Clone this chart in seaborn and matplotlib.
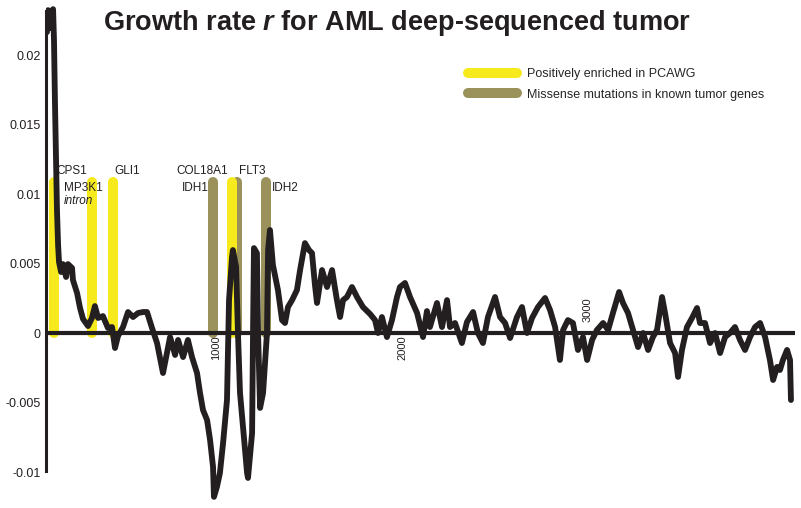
import matplotlib
matplotlib.use("Agg")
import matplotlib.pyplot as plt
import seaborn as sns
import pandas as pd

# growth rate r along the sequenced positions
positions = [91, 97, 108, 124, 129, 134, 140, 145, 151, 156, 167, 177, 194, 204, 226, 231,
             253, 269, 285, 312, 333, 349, 366, 392, 419, 441, 457, 473, 500, 527, 554, 581,
             608, 629, 656, 683, 715, 737, 753, 780, 796, 823, 849, 871, 898, 914, 930, 952,
             968, 984, 989, 1005, 1021, 1038, 1059, 1070, 1086, 1091, 1108, 1118, 1129, 1145,
             1167, 1172, 1194, 1199, 1204, 1220, 1226, 1237, 1253, 1274, 1280, 1290, 1306,
             1333, 1355, 1371, 1387, 1409, 1435, 1452, 1478, 1500, 1516, 1532, 1543, 1570,
             1597, 1624, 1650, 1667, 1683, 1704, 1731, 1758, 1790, 1828, 1855, 1871, 1892,
             1919, 1946, 1973, 1989, 2016, 2043, 2081, 2113, 2134, 2150, 2188, 2215, 2242,
             2258, 2285, 2322, 2349, 2382, 2408, 2435, 2462, 2500, 2527, 2554, 2581, 2618,
             2645, 2672, 2699, 2731, 2769, 2796, 2823, 2849, 2866, 2892, 2919, 2946, 2973,
             2995, 3022, 3048, 3081, 3108, 3134, 3167, 3188, 3215, 3242, 3269, 3296, 3323,
             3349, 3371, 3398, 3414, 3441, 3468, 3484, 3505, 3532, 3559, 3586, 3602, 3629,
             3656, 3683, 3710, 3737, 3763, 3790, 3817, 3844, 3871, 3898, 3925, 3952, 3978,
             3995, 4016, 4032, 4048, 4070, 4086, 4091]
growth_r = [0.02165, 0.02323, 0.02194, 0.0233, 0.02107, 0.01676, 0.01244, 0.00885, 0.00633,
            0.00511, 0.00439, 0.00496, 0.00403, 0.00496, 0.00468, 0.00381, 0.00288, 0.0018,
            0.00101, 0.0005, 0.00108, 0.00194, 0.00108, 0.00122, 0.00036, 0.00043, -0.00108,
            -0.00022, 0.00043, 0.00151, 0.00115, 0.00144, 0.00151, 0.00151, 0.00036, -0.00072,
            -0.00288, -0.00137, -0.00029, -0.00158, -0.0005, -0.00173, -0.0005, -0.00173,
            -0.00288, -0.00431, -0.00554, -0.00626, -0.00769, -0.00963, -0.01179, -0.01107,
            -0.01007, -0.00791, -0.00482, 0.00237, 0.00546, 0.00597, 0.00475, 0.0, -0.00431,
            -0.00676, -0.01007, -0.01043, -0.00719, 0.0, 0.00611, 0.00575, 0.0, -0.00539,
            -0.00431, 0.0, 0.00597, 0.00741, 0.00489, 0.00309, 0.00093, 0.00072, 0.00187,
            0.00237, 0.00309, 0.00453, 0.00647, 0.00597, 0.00575, 0.00345, 0.00216, 0.00453,
            0.00331, 0.00453, 0.00237, 0.00115, 0.00237, 0.00259, 0.00331, 0.00259, 0.00187,
            0.00137, 0.00093, 0.0, 0.00115, -0.00029, 0.00093, 0.00259, 0.00331, 0.0036,
            0.00259, 0.00144, -0.00029, 0.00158, 0.00043, 0.00216, 0.00043, 0.00237, 0.00043,
            0.00072, -0.00072, 0.00079, 0.00151, 0.0, -0.00072, 0.00115, 0.00259, 0.00115,
            0.00072, -0.00036, 0.00115, 0.00187, 0.0, 0.00108, 0.00187, 0.00252, 0.00165,
            0.00043, -0.00194, 0.00022, 0.00093, 0.00072, -0.00122, -0.00029, -0.00194,
            -0.0005, 0.00022, 0.00072, 0.00022, 0.00144, 0.00295, 0.00216, 0.00144, 0.00022,
            -0.00101, 0.0, -0.00122, -0.00029, 0.00022, 0.00259, 0.00144, -0.00072, -0.00144,
            -0.00316, -0.00122, 0.00043, 0.00108, 0.0018, 0.00072, 0.00072, -0.00072, 0.0,
            -0.00144, -0.00029, 0.0, 0.00043, -0.0005, -0.00122, -0.00029, 0.00043, 0.00072,
            -0.00029, -0.00194, -0.00338, -0.00244, -0.00266, -0.00194, -0.00122, -0.00194,
            -0.00482]

# marked genes
pcawg_pos = [129, 333, 446, 1086]          # positively enriched in PCAWG
missense_pos = [984, 1113, 1269]           # missense mutations in known tumor genes
bar_top = 0.0109

gene_names = ["CPS1", "MP3K1", "intron", "GLI1", "COL18A1", "FLT3", "IDH1", "IDH2"]
gene_x = [140, 183, 183, 452, 785, 1124, 817, 1301]
gene_y = [0.01165, 0.01043, 0.0095, 0.01165, 0.01165, 0.01165, 0.01043, 0.01043]
gene_italic = [False, False, True, False, False, False, False, False]

yticks = [-0.01, -0.005, 0, 0.005, 0.01, 0.015, 0.02]
xtick_vals = [1000, 2000, 3000]

BLACK = "#231f20"
YELLOW = "#f6ea1c"
OLIVE = "#9a925a"

sns.set_style("white")
plt.rcParams["font.family"] = ["Liberation Sans", "DejaVu Sans"]
plt.rcParams["mathtext.fontset"] = "custom"
plt.rcParams["mathtext.it"] = "Liberation Sans:italic:bold"

fig = plt.figure(figsize=(8.01, 5.08), dpi=100)
ax = fig.add_axes([46 / 801, 0, 755 / 801, 1])
ax.set_xlim(86, 4145)
ax.set_ylim(-0.01259, 0.02396)

# gene bars
miss_lines = []
for x in missense_pos:
    miss_lines += ax.plot([x, x], [0, bar_top], color=OLIVE, lw=7.2,
                          solid_capstyle="round", zorder=1)
pc_lines = []
for x in pcawg_pos:
    pc_lines += ax.plot([x, x], [0, bar_top], color=YELLOW, lw=7.2,
                        solid_capstyle="round", zorder=2)

# zero line
ax.plot([86, 4113], [0, 0], color=BLACK, lw=3, solid_capstyle="butt", zorder=3)

df = pd.DataFrame({"pos": positions, "r": growth_r})
sns.lineplot(data=df, x="pos", y="r", ax=ax, color=BLACK, lw=4.2, sort=False,
             solid_joinstyle="round", solid_capstyle="round", zorder=4)

for name, gx, gy, it in zip(gene_names, gene_x, gene_y, gene_italic):
    ax.text(gx, gy, name, fontsize=8.5, ha="left", va="center", color=BLACK,
            style="italic" if it else "normal", zorder=5)

# x tick labels sit along the zero line
for v in xtick_vals:
    if v == 3000:
        ax.text(v, 0.0008, str(v), rotation=90, ha="center", va="bottom",
                fontsize=8, color=BLACK)
    else:
        ax.text(v, -0.0002, str(v), rotation=90, ha="center", va="top",
                fontsize=8, color=BLACK)

ax.set_xticks([])
ax.set_yticks(yticks)
ax.set_yticklabels([f"{t:g}" for t in yticks])
ax.tick_params(axis="y", length=0, pad=4, labelsize=9, colors=BLACK)
ax.set_xlabel("")
ax.set_ylabel("")
for s in ["top", "right", "bottom"]:
    ax.spines[s].set_visible(False)
ax.spines["left"].set_color(BLACK)
ax.spines["left"].set_linewidth(2.2)
ax.spines["left"].set_bounds(-0.0099, 0.0232)

ax.legend(handles=[pc_lines[0], miss_lines[0]],
          labels=["Positively enriched in PCAWG", "Missense mutations in known tumor genes"],
          loc="upper left", bbox_to_anchor=(468 / 801, 1 - 68 / 508),
          bbox_transform=fig.transFigure, frameon=False, fontsize=9,
          handlelength=3.9, handletextpad=0.8, labelspacing=0.7,
          borderpad=0, borderaxespad=0)

fig.text(397 / 801, 1 - 30 / 508, r"Growth rate $\mathit{r}$ for AML deep-sequenced tumor",
         ha="center", va="baseline", fontsize=19.5, fontweight="bold", color=BLACK)

fig.savefig("out.png", dpi=100)
